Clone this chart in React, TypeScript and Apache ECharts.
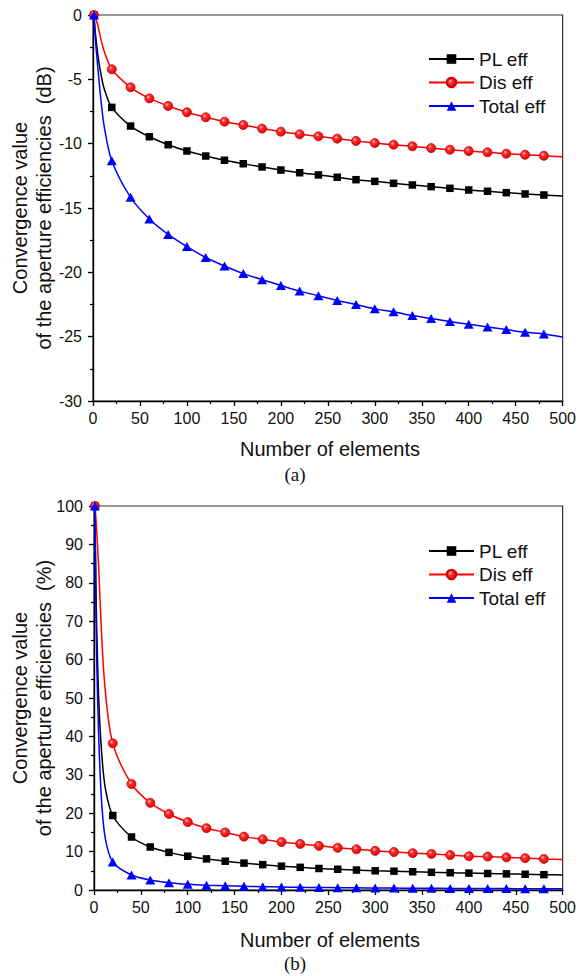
import React, { useEffect, useRef } from "react";
import * as echarts from "echarts";

const elements = [1, 2, 3, 5, 8, 12, 20, 40, 60, 80, 100, 120, 140, 160, 180, 200, 220, 240, 260, 280, 300, 320, 340, 360, 380, 400, 420, 440, 460, 480, 500];
const markedElements = [1, 20, 40, 60, 80, 100, 120, 140, 160, 180, 200, 220, 240, 260, 280, 300, 320, 340, 360, 380, 400, 420, 440, 460, 480];

const plDb = [0, -0.97, -1.74, -3.0, -4.4, -5.75, -7.18, -8.63, -9.46, -10.08, -10.57, -10.96, -11.29, -11.56, -11.81, -12.05, -12.26, -12.43, -12.61, -12.8, -12.93, -13.08, -13.21, -13.34, -13.47, -13.6, -13.7, -13.81, -13.91, -13.99, -14.07];
const disDb = [0, -0.12, -0.3, -0.76, -1.74, -2.84, -4.22, -5.62, -6.48, -7.07, -7.56, -7.95, -8.29, -8.55, -8.83, -9.07, -9.27, -9.43, -9.61, -9.79, -9.95, -10.08, -10.2, -10.34, -10.47, -10.57, -10.67, -10.78, -10.86, -10.94, -11.02];
const totalDb = [0, -1.25, -2.3, -3.98, -6.29, -8.7, -11.32, -14.17, -15.85, -17.05, -18.0, -18.85, -19.51, -20.1, -20.57, -21.02, -21.46, -21.82, -22.19, -22.5, -22.84, -23.07, -23.36, -23.59, -23.83, -24.04, -24.24, -24.45, -24.66, -24.79, -25.03];

const plPct = [100, 80, 67, 50, 36.3, 26.6, 19.4, 13.8, 11.2, 9.8, 8.8, 8.1, 7.5, 7.0, 6.6, 6.2, 5.9, 5.6, 5.4, 5.2, 5.0, 4.9, 4.75, 4.6, 4.5, 4.4, 4.3, 4.2, 4.1, 4.0, 3.93];
const disPct = [100, 97, 93, 84, 67, 52, 38.2, 27.6, 22.7, 19.8, 17.7, 16.1, 15.0, 13.9, 13.2, 12.5, 12.0, 11.5, 11.0, 10.6, 10.2, 9.9, 9.6, 9.4, 9.1, 8.8, 8.7, 8.5, 8.3, 8.1, 7.95];
const totalPct = [100, 75, 59, 40, 23.5, 13.5, 7.3, 3.9, 2.6, 1.9, 1.5, 1.25, 1.1, 0.95, 0.85, 0.78, 0.7, 0.65, 0.6, 0.56, 0.52, 0.49, 0.46, 0.44, 0.41, 0.39, 0.38, 0.36, 0.34, 0.33, 0.32];

const seriesNames = ["PL eff", "Dis eff", "Total eff"];
const xTitle = "Number of elements";
const yTitleLine1 = "Convergence value";
const yTitleLineA = "of the aperture efficiencies  (dB)";
const yTitleLineB = "of the aperture efficiencies  (%)";
const captions = ["(a)", "(b)"];

const SANS = "'Liberation Sans', Arial, Helvetica, sans-serif";
const SERIF = "'Liberation Serif', 'Times New Roman', serif";

const redBall = {
  type: "radial",
  x: 0.38,
  y: 0.35,
  r: 0.7,
  colorStops: [
    { offset: 0, color: "#ffd0d0" },
    { offset: 0.3, color: "#ff3030" },
    { offset: 1, color: "#d80000" },
  ],
};

const styles = [
  { color: "#000000", symbol: "rect", symbolSize: 7.5, itemColor: "#000000", border: "#000000" },
  { color: "#ff0000", symbol: "circle", symbolSize: 9, itemColor: redBall, border: "#cc0000" },
  { color: "#0000ff", symbol: "triangle", symbolSize: [10, 9], itemColor: "#0000ff", border: "#0000ff" },
];

function buildData(values: number[], sIdx: number) {
  const st = styles[sIdx];
  return elements.map((n, i) => {
    const marked = markedElements.indexOf(n) >= 0;
    return marked
      ? { value: [n, values[i]], symbol: st.symbol, symbolSize: st.symbolSize }
      : { value: [n, values[i]], symbol: "none" };
  });
}

export default function App() {
  const ref = useRef<HTMLDivElement>(null);
  useEffect(() => {
    if (!ref.current) return;
    const chart = echarts.init(ref.current, null, { renderer: "svg" });

    const gridA = { left: 93, top: 15, width: 473, height: 386 };
    const gridB = { left: 94, top: 506, width: 472, height: 384 };

    const xAxisBase = (gridIndex: number) => ({
      type: "value",
      gridIndex,
      min: 0,
      max: 500,
      interval: 50,
      splitLine: { show: false },
      axisLine: { show: true, onZero: false, lineStyle: { color: "#000", width: 1.4 } },
      axisTick: { show: true, inside: false, length: 5, lineStyle: { color: "#000", width: 1.3 } },
      minorTick: { show: true, splitNumber: 2, length: 3, lineStyle: { color: "#000", width: 1.2 } },
      axisLabel: { color: "#111", fontSize: 16, fontFamily: SANS, margin: 9 },
    });

    const yAxisBase = (gridIndex: number, min: number, max: number, interval: number) => ({
      type: "value",
      gridIndex,
      min,
      max,
      interval,
      splitLine: { show: false },
      axisLine: { show: true, onZero: false, lineStyle: { color: "#000", width: 1.4 } },
      axisTick: { show: true, inside: false, length: 5, lineStyle: { color: "#000", width: 1.3 } },
      minorTick: { show: true, splitNumber: 2, length: 3, lineStyle: { color: "#000", width: 1.2 } },
      axisLabel: { color: "#111", fontSize: 16, fontFamily: SANS, margin: 11 },
    });

    const mkSeries = (values: number[], sIdx: number, axisIndex: number) => {
      const st = styles[sIdx];
      return {
        type: "line",
        name: seriesNames[sIdx],
        xAxisIndex: axisIndex,
        yAxisIndex: axisIndex,
        data: buildData(values, sIdx),
        smooth: 0.3,
        showAllSymbol: true,
        clip: false,
        symbol: st.symbol,
        symbolSize: st.symbolSize,
        lineStyle: { color: st.color, width: 1.5 },
        itemStyle: { color: st.itemColor, borderColor: st.border, borderWidth: sIdx === 1 ? 0.8 : 0 },
        emphasis: { disabled: true },
        z: 2 + sIdx,
      };
    };

    const legendBase = (top: number) => ({
      show: true,
      orient: "vertical",
      left: 428,
      top,
      itemWidth: 45,
      itemHeight: 12,
      itemGap: 3.5,
      padding: 0,
      selectedMode: false,
      data: seriesNames,
      textStyle: { fontSize: 19, lineHeight: 20, fontFamily: SANS, color: "#111" },
    });

    const textEl = (text: string, x: number, y: number, font: string, rotate = false) => ({
      type: "text",
      x,
      y,
      rotation: rotate ? Math.PI / 2 : 0,
      style: { text, font, fill: "#111", align: "center", verticalAlign: "middle" },
    });

    const titleFont = `20px ${SANS}`;
    const capFont = `19px ${SERIF}`;

    const option = {
      animation: false,
      backgroundColor: "#ffffff",
      grid: [
        { ...gridA, show: true, borderColor: "#333", borderWidth: 1.2, backgroundColor: "transparent" },
        { ...gridB, show: true, borderColor: "#333", borderWidth: 1.2, backgroundColor: "transparent" },
      ],
      xAxis: [xAxisBase(0), xAxisBase(1)],
      yAxis: [yAxisBase(0, -30, 0, 5), yAxisBase(1, 0, 100, 10)],
      legend: [legendBase(49), legendBase(541)],
      series: [
        mkSeries(plDb, 0, 0),
        mkSeries(disDb, 1, 0),
        mkSeries(totalDb, 2, 0),
        mkSeries(plPct, 0, 1),
        mkSeries(disPct, 1, 1),
        mkSeries(totalPct, 2, 1),
      ],
      graphic: [
        textEl(xTitle, 330, 449, titleFont),
        textEl(captions[0], 295, 474, capFont),
        textEl(yTitleLine1, 20, 208, titleFont, true),
        textEl(yTitleLineA, 44, 208, titleFont, true),
        textEl(xTitle, 330, 940, titleFont),
        textEl(captions[1], 295, 963, capFont),
        textEl(yTitleLine1, 20, 698, titleFont, true),
        textEl(yTitleLineB, 44, 698, titleFont, true),
      ],
    };

    chart.setOption(option as any);
    return () => chart.dispose();
  }, []);

  return (
    <div
      ref={ref}
      style={{ position: "absolute", left: 0, top: 0, width: 579, height: 976, background: "#fff" }}
    />
  );
}
